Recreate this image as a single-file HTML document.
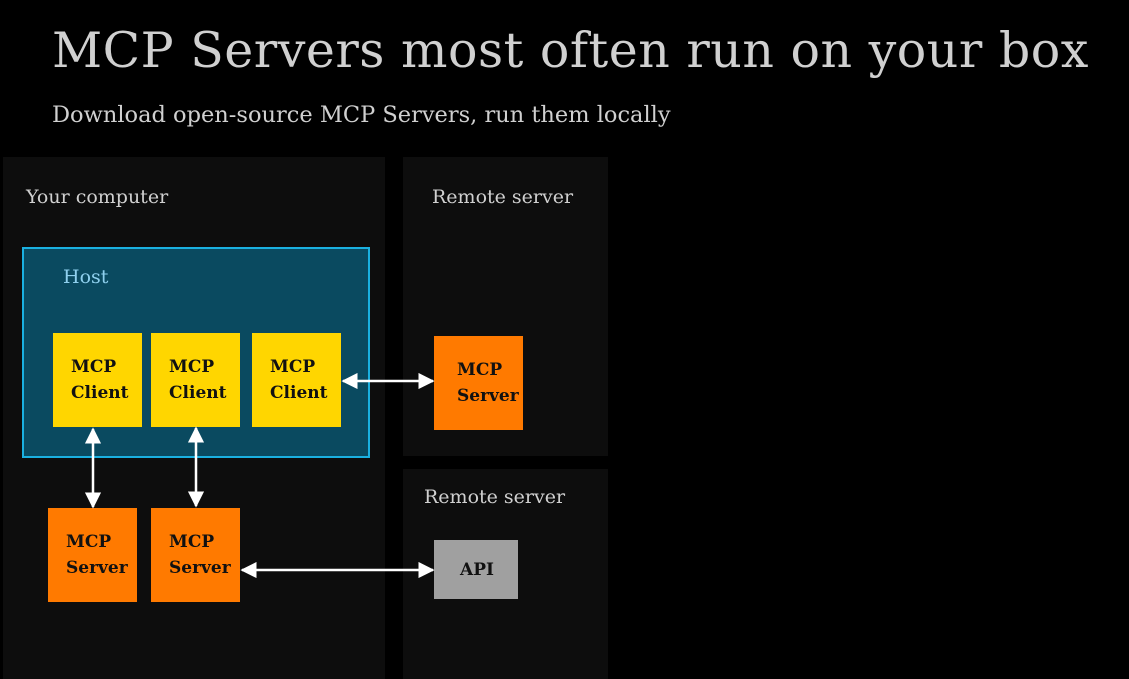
<!DOCTYPE html>
<html><head><meta charset="utf-8"><style>
body{margin:0;width:1129px;height:679px;background:#000;position:relative;overflow:hidden;font-family:"DejaVu Serif","Liberation Serif",serif;}
.a{position:absolute;}
.t{color:#d0d0d0;}
.box{position:absolute;font-weight:bold;font-size:17px;line-height:26px;color:#111;box-sizing:border-box;padding-left:18px;display:flex;flex-direction:column;justify-content:center;}
.y{background:#ffd600}.o{background:#ff7a00}
</style></head><body>
<div class="a t" style="left:52px;top:22px;font-size:49px;white-space:nowrap;letter-spacing:0.5px">MCP Servers most often run on your box</div>
<div class="a t" style="left:52px;top:102px;font-size:22.5px;white-space:nowrap">Download open-source MCP Servers, run them locally</div>
<div class="a" style="left:3px;top:157px;width:382px;height:522px;background:#0d0d0d"></div>
<div class="a" style="left:403px;top:157px;width:205px;height:299px;background:#0d0d0d"></div>
<div class="a" style="left:403px;top:469px;width:205px;height:210px;background:#0d0d0d"></div>
<div class="a t" style="left:26px;top:186px;font-size:19px">Your computer</div>
<div class="a t" style="left:432px;top:186px;font-size:19px">Remote server</div>
<div class="a t" style="left:424px;top:486px;font-size:19px">Remote server</div>
<div class="a" style="left:22px;top:247px;width:344px;height:207px;background:#0a4a60;border:2px solid #1ab0e0"></div>
<div class="a" style="left:63px;top:266px;font-size:19px;color:#8fd0ee">Host</div>
<div class="box y" style="left:53px;top:333px;width:89px;height:94px">MCP<br>Client</div>
<div class="box y" style="left:151px;top:333px;width:89px;height:94px">MCP<br>Client</div>
<div class="box y" style="left:252px;top:333px;width:89px;height:94px">MCP<br>Client</div>
<div class="box o" style="left:434px;top:336px;width:89px;height:94px;padding-left:23px">MCP<br>Server</div>
<div class="box o" style="left:48px;top:508px;width:89px;height:94px">MCP<br>Server</div>
<div class="box o" style="left:151px;top:508px;width:89px;height:94px">MCP<br>Server</div>
<div class="box" style="left:434px;top:540px;width:84px;height:59px;background:#a0a0a0;padding-left:26px">API</div>
<svg class="a" style="left:0;top:0" width="1129" height="679">
<defs><marker id="m" viewBox="0 0 10 10" refX="9" refY="5" markerWidth="6.5" markerHeight="6.5" orient="auto-start-reverse"><path d="M0,0L10,5L0,10z" fill="#fff"/></marker></defs>
<g stroke="#fff" stroke-width="2.5" fill="none">
<line x1="343" y1="381" x2="433" y2="381" marker-start="url(#m)" marker-end="url(#m)"/>
<line x1="93" y1="429" x2="93" y2="507" marker-start="url(#m)" marker-end="url(#m)"/>
<line x1="196" y1="428" x2="196" y2="506" marker-start="url(#m)" marker-end="url(#m)"/>
<line x1="242" y1="570" x2="433" y2="570" marker-start="url(#m)" marker-end="url(#m)"/>
</g></svg>
</body></html>
